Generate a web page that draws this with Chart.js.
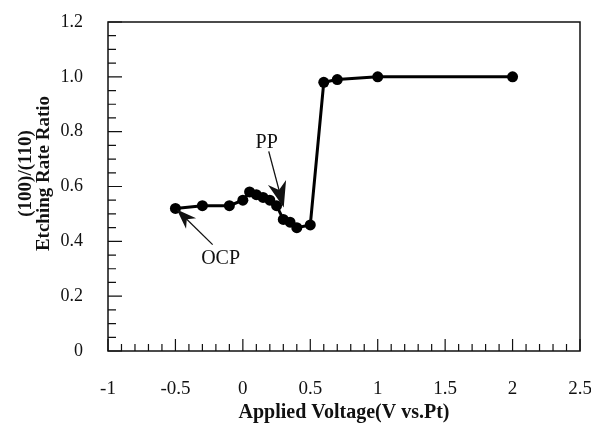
<!DOCTYPE html>
<html lang="en">
<head>
  <meta charset="UTF-8" />
  <title>Etching Rate Ratio vs Applied Voltage</title>
  <style>
    body { margin: 0; background: #fff; }
    .wrap { width: 591px; height: 427px; position: relative; }
  </style>
</head>
<body>
  <div class="wrap"><canvas id="ratioChart"></canvas></div>

  <script src="https://cdn.jsdelivr.net/npm/chart.js"></script>
  <script>
    // applied voltage (V vs. Pt) and (100)/(110) etching rate ratio
    const voltage = [-0.5, -0.3, -0.1, 0, 0.05, 0.1, 0.15, 0.2, 0.25, 0.3, 0.35, 0.4, 0.5, 0.6, 0.7, 1.0, 2.0];
    const ratio   = [0.52, 0.53, 0.53, 0.55, 0.58, 0.57, 0.56, 0.55, 0.53, 0.48, 0.47, 0.45, 0.46, 0.98, 0.99, 1.0, 1.0];

    const xRange = [-1, 2.5];
    const yRange = [0, 1.2];
    const xTitle = 'Applied Voltage(V vs.Pt)';
    const yTitle = ['(100)/(110)', 'Etching Rate Ratio'];

    // callouts: label centre, arrow tail, arrow tip (data units)
    const notes = [
      { text: 'OCP', at: [-0.165, 0.337], from: [-0.224, 0.388], to: [-0.49, 0.516], head: 20 },
      { text: 'PP',  at: [0.177, 0.761],  from: [0.192, 0.728],  to: [0.303, 0.523], head: 26 }
    ];

    const ink = '#111';
    const serif = "'Liberation Serif', 'DejaVu Serif', serif";

    function arrow(ctx, x1, y1, x2, y2, len) {
      const ang = Math.atan2(y2 - y1, x2 - x1);
      const half = len * 0.36;
      ctx.beginPath();
      ctx.moveTo(x1, y1);
      ctx.lineTo(x2 - Math.cos(ang) * len * 0.5, y2 - Math.sin(ang) * len * 0.5);
      ctx.lineWidth = 1.3;
      ctx.stroke();
      const bx = x2 - Math.cos(ang) * len, by = y2 - Math.sin(ang) * len;
      const nx = x2 - Math.cos(ang) * len * 0.7, ny = y2 - Math.sin(ang) * len * 0.7;
      ctx.beginPath();
      ctx.moveTo(x2, y2);
      ctx.lineTo(bx + Math.sin(ang) * half, by - Math.cos(ang) * half);
      ctx.lineTo(nx, ny);
      ctx.lineTo(bx - Math.sin(ang) * half, by + Math.cos(ang) * half);
      ctx.closePath();
      ctx.fill();
    }

    const framePlugin = {
      id: 'frame',
      afterDraw(chart) {
        const ctx = chart.ctx;
        const xs = chart.scales.x, ys = chart.scales.y;
        const a = chart.chartArea;
        ctx.save();
        ctx.strokeStyle = ink;
        ctx.fillStyle = ink;
        ctx.lineWidth = 1.5;
        ctx.strokeRect(a.left, a.top, a.right - a.left, a.bottom - a.top);

        // inward ticks, minor every 0.1 on x and 0.05 on y
        ctx.lineWidth = 1.2;
        ctx.beginPath();
        for (let i = 0; i <= 35; i++) {
          const px = xs.getPixelForValue(xRange[0] + i * 0.1);
          const l = i % 5 === 0 ? 12 : 7;
          ctx.moveTo(px, a.bottom);
          ctx.lineTo(px, a.bottom - l);
        }
        for (let i = 0; i <= 24; i++) {
          const py = ys.getPixelForValue(yRange[0] + i * 0.05);
          const l = i % 4 === 0 ? 14 : 8;
          ctx.moveTo(a.left, py);
          ctx.lineTo(a.left + l, py);
        }
        ctx.stroke();

        // callouts
        ctx.font = '20px ' + serif;
        ctx.textAlign = 'center';
        ctx.textBaseline = 'middle';
        notes.forEach(n => {
          ctx.fillText(n.text, xs.getPixelForValue(n.at[0]), ys.getPixelForValue(n.at[1]));
          arrow(ctx,
            xs.getPixelForValue(n.from[0]), ys.getPixelForValue(n.from[1]),
            xs.getPixelForValue(n.to[0]), ys.getPixelForValue(n.to[1]), n.head);
        });

        // two-line y title
        ctx.font = 'bold 19px ' + serif;
        const cy = (a.top + a.bottom) / 2 - 13;
        yTitle.forEach((t, i) => {
          ctx.save();
          ctx.translate(26 + i * 18, cy);
          ctx.rotate(-Math.PI / 2);
          ctx.fillText(t, 0, 0);
          ctx.restore();
        });
        ctx.restore();
      }
    };

    new Chart(document.getElementById('ratioChart'), {
      type: 'scatter',
      data: {
        datasets: [{
          data: voltage.map((v, i) => ({ x: v, y: ratio[i] })),
          showLine: true,
          borderColor: '#000',
          borderWidth: 3,
          backgroundColor: '#000',
          pointRadius: 5.5,
          pointBorderWidth: 0,
          tension: 0
        }]
      },
      options: {
        responsive: true,
        maintainAspectRatio: false,
        animation: false,
        layout: { padding: { top: 22, right: 11, bottom: 0, left: 0 } },
        plugins: { legend: { display: false }, tooltip: { enabled: false } },
        scales: {
          x: {
            type: 'linear',
            min: xRange[0],
            max: xRange[1],
            grid: { display: false, drawTicks: false },
            border: { display: false },
            ticks: {
              stepSize: 0.5,
              padding: 27,
              color: ink,
              font: { family: serif, size: 19 },
              callback: v => String(Math.round(v * 10) / 10)
            },
            title: {
              display: true,
              text: xTitle,
              color: ink,
              font: { family: serif, size: 20, weight: 'bold' },
              padding: { top: 0, bottom: 2 }
            },
            afterFit: s => { s.height = 76; s.paddingLeft = 0; s.paddingRight = 0; }
          },
          y: {
            min: yRange[0],
            max: yRange[1],
            grid: { display: false, drawTicks: false },
            border: { display: false },
            ticks: {
              stepSize: 0.2,
              padding: 25,
              color: ink,
              font: { family: serif, size: 18 },
              callback: v => v === 0 ? '0' : v.toFixed(1)
            },
            afterFit: s => { s.width = 108; s.paddingTop = 0; s.paddingBottom = 0; }
          }
        }
      },
      plugins: [framePlugin]
    });
  </script>
</body>
</html>
